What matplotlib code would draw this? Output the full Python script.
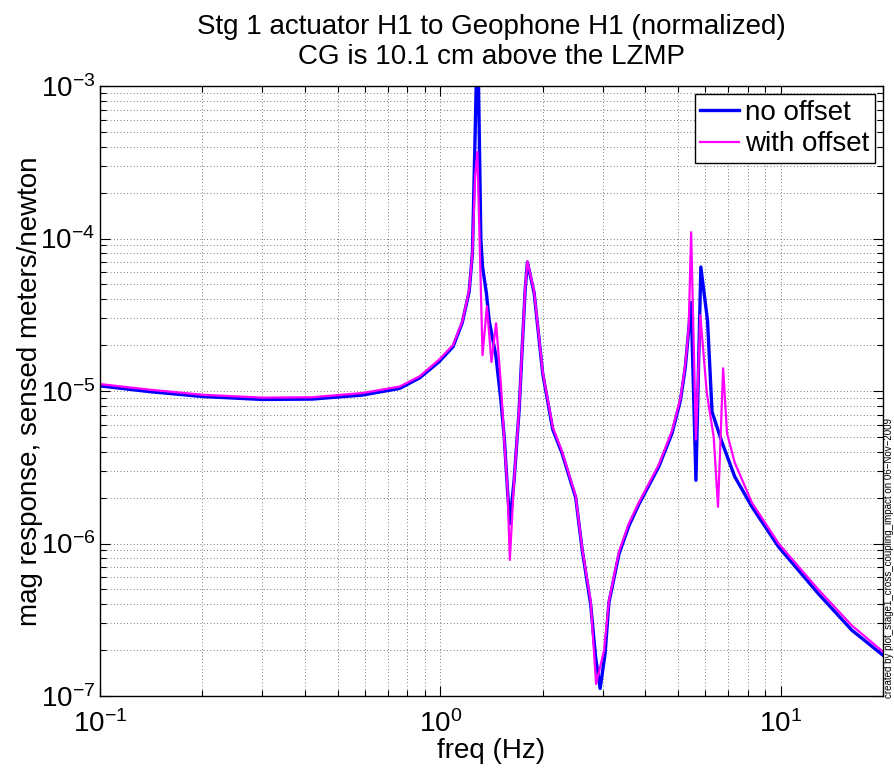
import matplotlib
matplotlib.use('Agg')
import matplotlib.pyplot as plt
from matplotlib.ticker import LogLocator, NullFormatter

# no offset (blue)
freq_no = [0.1, 0.14, 0.2, 0.3, 0.42, 0.59, 0.76, 0.87, 0.99, 1.09, 1.16, 1.216,
           1.243, 1.265, 1.28, 1.292, 1.316, 1.331, 1.366, 1.392, 1.457, 1.507,
           1.541, 1.576, 1.601, 1.648, 1.705, 1.744, 1.776, 1.803, 1.887, 2.0,
           2.14, 2.28, 2.5, 2.614, 2.766, 2.86, 2.95, 3.05, 3.13, 3.35, 3.58,
           3.83, 4.39, 4.8, 5.08, 5.25, 5.37, 5.46, 5.64, 5.83, 6.1, 6.29, 6.73,
           7.33, 8.24, 9.87, 12.9, 16.2, 20.0]
mag_no = [1.08e-5, 9.9e-6, 9.2e-6, 8.8e-6, 8.85e-6, 9.4e-6, 1.04e-5, 1.22e-5,
          1.55e-5, 1.95e-5, 2.8e-5, 4.5e-5, 8e-5, 4.5e-4, 1.5e-3, 1.5e-3, 9.8e-5,
          6.5e-5, 4.4e-5, 2.9e-5, 1.7e-5, 8.7e-6, 5.0e-6, 2.25e-6, 1.35e-6,
          2.6e-6, 7.5e-6, 2.1e-5, 4.6e-5, 7.0e-5, 4.4e-5, 1.3e-5, 5.6e-6, 3.9e-6,
          2.0e-6, 9e-7, 4e-7, 1.8e-7, 1.12e-7, 1.9e-7, 4.1e-7, 8.5e-7, 1.3e-6,
          1.8e-6, 3.2e-6, 5.3e-6, 8.7e-6, 1.44e-5, 2.5e-5, 3.8e-5, 2.6e-6,
          6.5e-5, 2.9e-5, 7.3e-6, 4.6e-6, 2.75e-6, 1.74e-6, 9.5e-7, 4.7e-7,
          2.7e-7, 1.85e-7]

# with offset (magenta)
freq_with = [0.1, 0.14, 0.2, 0.3, 0.42, 0.59, 0.76, 0.87, 0.99, 1.09, 1.16, 1.216,
             1.243, 1.265, 1.285, 1.331, 1.371, 1.414, 1.459, 1.507, 1.541, 1.576,
             1.601, 1.648, 1.705, 1.744, 1.776, 1.803, 1.887, 2.0, 2.14, 2.28, 2.5,
             2.614, 2.766, 2.87, 3.03, 3.13, 3.35, 3.58, 3.83, 4.39, 4.8, 5.08,
             5.25, 5.37, 5.46, 5.64, 5.81, 6.07, 6.36, 6.55, 6.78, 6.96, 7.33,
             8.24, 9.87, 12.9, 16.2, 20.0]
mag_with = [1.11e-5, 1.02e-5, 9.45e-6, 9.05e-6, 9.1e-6, 9.7e-6, 1.07e-5, 1.25e-5,
            1.6e-5, 2.0e-5, 2.85e-5, 4.6e-5, 8e-5, 2.5e-4, 3.7e-4, 1.72e-5,
            3.6e-5, 1.55e-5, 2.78e-5, 1.1e-5, 4.8e-6, 2.3e-6, 7.8e-7, 2.6e-6,
            7.6e-6, 2.15e-5, 4.7e-5, 7.1e-5, 4.5e-5, 1.33e-5, 5.8e-6, 4.0e-6,
            2.05e-6, 9.2e-7, 4.2e-7, 1.2e-7, 2.0e-7, 4.2e-7, 8.8e-7, 1.35e-6,
            1.85e-6, 3.3e-6, 5.5e-6, 9.0e-6, 1.5e-5, 2.6e-5, 1.1e-4, 4.8e-6,
            3.15e-5, 9.7e-6, 5.0e-6, 1.74e-6, 1.41e-5, 5.3e-6, 3.4e-6, 1.85e-6,
            1.0e-6, 5.0e-7, 2.9e-7, 1.95e-7]

plt.rcParams['font.family'] = ['Liberation Sans', 'DejaVu Sans']
plt.rcParams['mathtext.fontset'] = 'custom'
plt.rcParams['mathtext.rm'] = 'Liberation Sans'
plt.rcParams['mathtext.default'] = 'regular'

fig = plt.figure(figsize=(8.94, 7.68), dpi=100)
ax = fig.add_axes([100 / 894, 1 - 696 / 768, 783 / 894, 610 / 768])

ax.loglog(freq_no, mag_no, color='#0000ff', lw=2.4, label='no offset')
ax.loglog(freq_with, mag_with, color='#ff00ff', lw=1.6, label='with offset')

ax.set_xlim(0.1, 20)
ax.set_ylim(1e-7, 1e-3)
ax.xaxis.set_minor_locator(LogLocator(base=10, subs=range(2, 10), numticks=20))
ax.yaxis.set_minor_locator(LogLocator(base=10, subs=range(2, 10), numticks=20))
ax.xaxis.set_minor_formatter(NullFormatter())
ax.yaxis.set_minor_formatter(NullFormatter())

ax.set_axisbelow(True)
ax.grid(True, which='both', linestyle=(0, (1, 3)), color='0.3', linewidth=0.6)
ax.tick_params(which='both', direction='in', top=True, right=True, labelsize=20, width=0.8)
ax.tick_params(which='major', length=7)
ax.tick_params(which='minor', length=4)
ax.tick_params(axis='x', pad=10)
for s in ax.spines.values():
    s.set_linewidth(1.0)

ax.set_xlabel('freq (Hz)', fontsize=20)
ax.xaxis.set_label_coords(0.5, -0.09)
ax.xaxis.label.set_va('center')
ax.set_ylabel('mag response, sensed meters/newton', fontsize=20)
ax.yaxis.set_label_coords(-0.09, 0.5)
ax.yaxis.label.set_va('center')
ax.set_title('Stg 1 actuator H1 to Geophone H1 (normalized)\nCG is 10.1 cm above the LZMP',
             fontsize=20, pad=16)

leg = ax.legend(loc='upper right', fontsize=20, fancybox=False, framealpha=1,
                edgecolor='k', handlelength=1.4, handletextpad=0.2,
                borderpad=0.2, labelspacing=0.2, borderaxespad=0.3)
leg.get_frame().set_linewidth(1.0)

fig.text(889 / 894, 1 - 698 / 768,
         'created by plot_stage1_cross_coupling_impact on 06\u2212Nov\u22122009',
         rotation=90, ha='center', va='bottom', fontsize=7)

plt.savefig('out.png', dpi=100)
